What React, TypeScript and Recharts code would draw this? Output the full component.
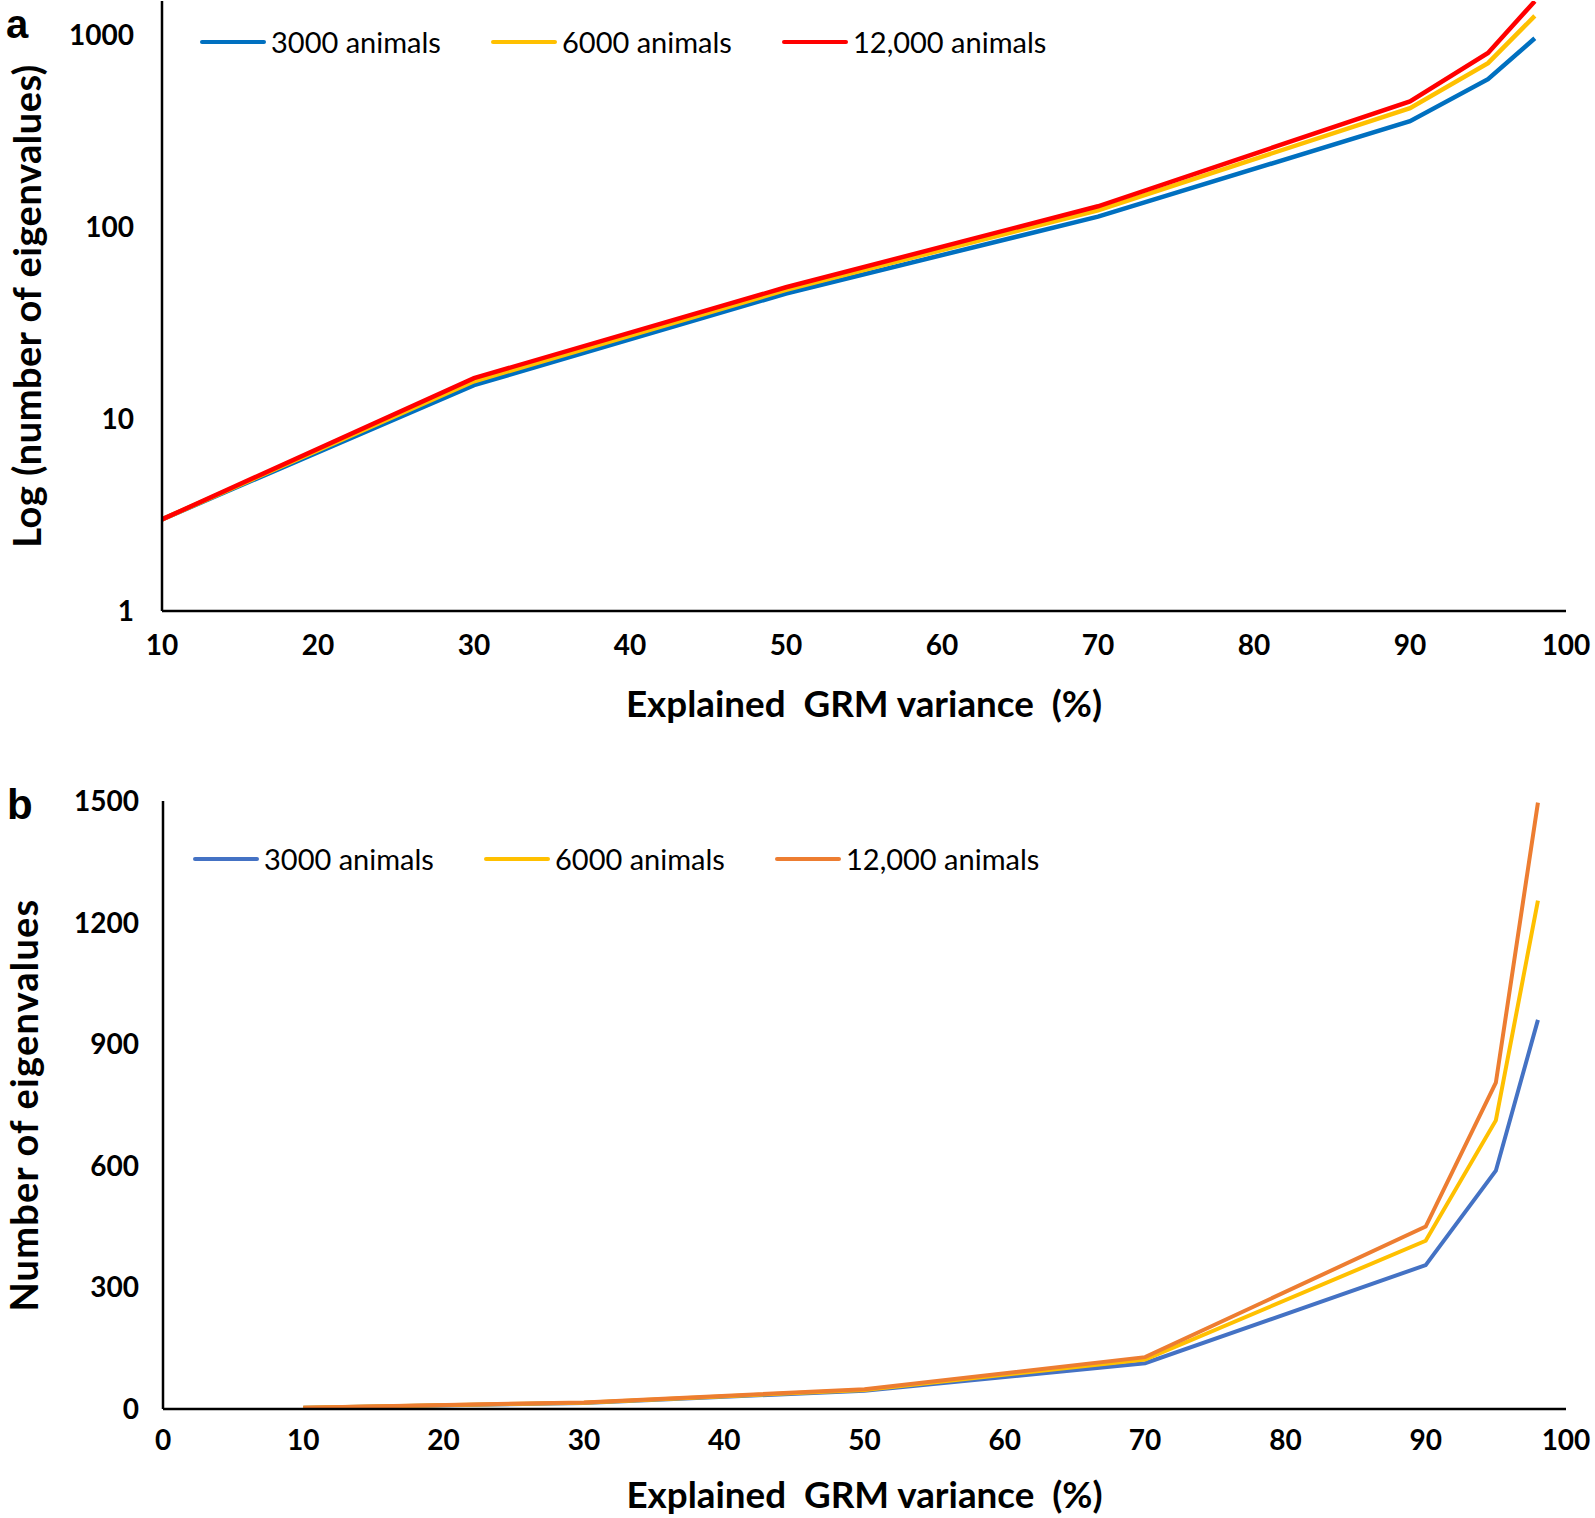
import React from 'react';
import { LineChart, Line, XAxis, YAxis, Legend, Label } from 'recharts';

// explained GRM variance (%) at which eigenvalue counts were taken
const variancePct = [10, 30, 50, 70, 90, 95, 98];

// number of eigenvalues needed, per population size
const animals3000 = [3, 15, 45, 113, 355, 588, 960];
const animals6000 = [3, 15.7, 47, 122, 415, 712, 1254];
const animals12000 = [3, 16.3, 48.5, 128, 450, 805, 1496];

const seriesNames = ['3000 animals', '6000 animals', '12,000 animals'];

const logTicks = [1, 10, 100, 1000];
const logXTicks = [10, 20, 30, 40, 50, 60, 70, 80, 90, 100];
const linTicks = [0, 300, 600, 900, 1200, 1500];
const linXTicks = [0, 10, 20, 30, 40, 50, 60, 70, 80, 90, 100];

const xTitle = 'Explained  GRM variance  (%)';

const rows = variancePct.map((x, i) => ({
    x,
    s3000: animals3000[i],
    s6000: animals6000[i],
    s12000: animals12000[i],
}));

const FONT = 'Lato, "Open Sans", sans-serif';

const tickStyle = { fontFamily: FONT, fontSize: 28, fontWeight: 700, fill: '#000' };
const axisStyle = { stroke: '#000', strokeWidth: 2.5 };

const renderLegend = (left: number) => (props: any) => {
    // keep the series order, not the alphabetical one
    const items = [...(props.payload || [])].sort(
        (a: any, b: any) => seriesNames.indexOf(a.value) - seriesNames.indexOf(b.value)
    );
    return (
        <div style={{ display: 'flex', paddingLeft: left }}>
            {items.map((entry: any, i: number) => (
                <div key={i} style={{ display: 'flex', alignItems: 'center', width: 291, flex: 'none' }}>
                    <span style={{ display: 'inline-block', width: 66, height: 4, background: entry.color, marginRight: 5, borderRadius: 2 }} />
                    <span style={{ fontFamily: FONT, fontSize: 29, lineHeight: '34px', color: '#000', whiteSpace: 'nowrap' }}>
                        {entry.value}
                    </span>
                </div>
            ))}
        </div>
    );
};

const xTitleContent = (gap: number) => (props: any) => {
    const vb = props.viewBox || { x: 0, y: 0, width: 0 };
    return (
        <text
            x={vb.x + vb.width / 2}
            y={vb.y + gap}
            textAnchor="middle"
            style={{ whiteSpace: 'pre', fontFamily: FONT, fontSize: 36.8, fontWeight: 700, fill: '#000' }}
        >
            {xTitle}
        </text>
    );
};

const yTitleContent = (text: string, cx: number, spacing: number) => (props: any) => {
    const vb = props.viewBox || { y: 0, height: 0 };
    const cy = vb.y + vb.height / 2;
    return (
        <text
            x={cx}
            y={cy}
            transform={`rotate(-90 ${cx} ${cy})`}
            textAnchor="middle"
            style={{ fontFamily: FONT, fontSize: 38, fontWeight: 700, letterSpacing: spacing, fill: '#000' }}
        >
            {text}
        </text>
    );
};

const LogPanel = () => (
    <LineChart width={1595} height={730} data={rows} margin={{ top: 1, right: 29, left: 62, bottom: 19 }}>
        <XAxis
            dataKey="x"
            type="number"
            domain={[10, 100]}
            ticks={logXTicks}
            tickLine={false}
            tickSize={0}
            tickMargin={24}
            axisLine={axisStyle}
            tick={tickStyle}
            height={100}
        >
            <Label content={xTitleContent(106)} />
        </XAxis>
        <YAxis
            type="number"
            scale="log"
            domain={[1, 1500]}
            ticks={logTicks}
            allowDataOverflow
            tickLine={false}
            tickSize={0}
            tickMargin={28}
            axisLine={axisStyle}
            tick={tickStyle}
            width={100}
        >
            <Label content={yTitleContent('Log (number of eigenvalues)', 41, 0.5)} />
        </YAxis>
        <Legend
            layout="horizontal"
            verticalAlign="middle"
            align="center"
            content={renderLegend(200)}
            wrapperStyle={{ top: 25, left: 0, width: 1595 }}
        />
        <Line type="linear" dataKey="s3000" name={seriesNames[0]} stroke="#0070C0" strokeWidth={4.5} dot={false} isAnimationActive={false} />
        <Line type="linear" dataKey="s6000" name={seriesNames[1]} stroke="#FFC000" strokeWidth={4.5} dot={false} isAnimationActive={false} />
        <Line type="linear" dataKey="s12000" name={seriesNames[2]} stroke="#FF0000" strokeWidth={4.5} dot={false} isAnimationActive={false} />
    </LineChart>
);

const LinearPanel = () => (
    <LineChart width={1595} height={738} data={rows} margin={{ top: 21, right: 29, left: 63, bottom: 9 }}>
        <XAxis
            dataKey="x"
            type="number"
            domain={[0, 100]}
            ticks={linXTicks}
            tickLine={false}
            tickSize={0}
            tickMargin={21}
            axisLine={axisStyle}
            tick={tickStyle}
            height={100}
        >
            <Label content={xTitleContent(99)} />
        </XAxis>
        <YAxis
            type="number"
            domain={[0, 1500]}
            ticks={linTicks}
            tickLine={false}
            tickSize={0}
            tickMargin={24}
            axisLine={axisStyle}
            tick={tickStyle}
            width={100}
        >
            <Label content={yTitleContent('Number of eigenvalues', 38, 1.2)} />
        </YAxis>
        <Legend
            layout="horizontal"
            verticalAlign="middle"
            align="center"
            content={renderLegend(193)}
            wrapperStyle={{ top: 62, left: 0, width: 1595 }}
        />
        <Line type="linear" dataKey="s3000" name={seriesNames[0]} stroke="#4472C4" strokeWidth={4} dot={false} isAnimationActive={false} />
        <Line type="linear" dataKey="s6000" name={seriesNames[1]} stroke="#FFC000" strokeWidth={4} dot={false} isAnimationActive={false} />
        <Line type="linear" dataKey="s12000" name={seriesNames[2]} stroke="#ED7D31" strokeWidth={4} dot={false} isAnimationActive={false} />
    </LineChart>
);

export default function App() {
    return (
        <div style={{ position: 'absolute', left: 0, top: 0, width: 1595, height: 1518, background: '#fff', overflow: 'hidden' }}>
            <div style={{ position: 'absolute', left: 0, top: 0 }}>
                <LogPanel />
            </div>
            <div style={{ position: 'absolute', left: 0, top: 780 }}>
                <LinearPanel />
            </div>
            <svg width={1595} height={1518} style={{ position: 'absolute', left: 0, top: 0, pointerEvents: 'none' }}>
                <text x={6} y={38} style={{ fontFamily: '"Liberation Sans", Arial, sans-serif', fontSize: 40, fontWeight: 700, fill: '#000' }}>a</text>
                <text x={7} y={819} style={{ fontFamily: '"Liberation Sans", Arial, sans-serif', fontSize: 42, fontWeight: 700, fill: '#000' }}>b</text>
            </svg>
        </div>
    );
}
